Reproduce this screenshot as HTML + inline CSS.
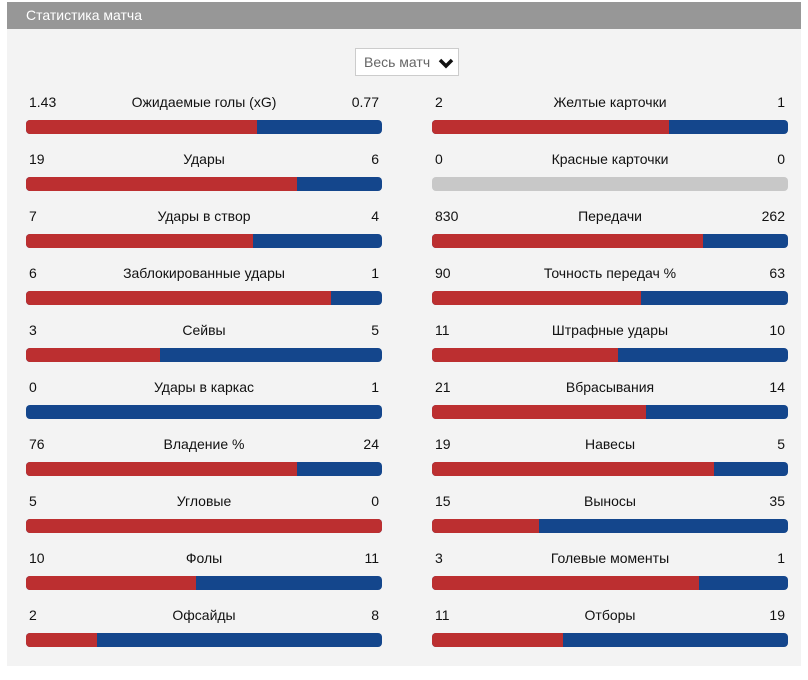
<!DOCTYPE html>
<html><head><meta charset="utf-8"><style>
body{margin:0;width:808px;height:680px;background:#fff;font-family:"Liberation Sans",sans-serif;position:relative;overflow:hidden}
#hdr{position:absolute;left:7px;top:2px;width:794px;height:27px;background:#979797;color:#fff;font-size:14px;line-height:27px;box-sizing:border-box;padding-left:19px}
#panel{position:absolute;left:7px;top:29px;width:794px;height:637px;background:#f3f3f3}
#sel{position:absolute;left:355px;top:48px;width:104px;height:28px;box-sizing:border-box;border:1px solid #ccc;background:#fff;font-size:14px;color:#666;line-height:26px;padding-left:8px}
#sel svg{position:absolute;right:4px;top:8px}
.t{position:absolute;font-size:14px;color:#111;line-height:16px;white-space:nowrap}
.bar{position:absolute;height:14px;width:356px;border-radius:4px;overflow:hidden;background:#14468c}
.bar .r{position:absolute;left:0;top:0;height:100%;background:#bc2f30}
</style></head><body>
<div id="hdr">Статистика матча</div>
<div id="panel"></div>
<div id="sel">Весь матч<svg width="16" height="12" viewBox="0 0 16 12"><path d="M2 3 L8 9 L14 3" stroke="#111" stroke-width="3.5" fill="none"/></svg></div>
<div id="stats"></div>
<script>
const labels=["Ожидаемые голы (xG)","Удары","Удары в створ","Заблокированные удары","Сейвы","Удары в каркас","Владение %","Угловые","Фолы","Офсайды","Желтые карточки","Красные карточки","Передачи","Точность передач %","Штрафные удары","Вбрасывания","Навесы","Выносы","Голевые моменты","Отборы"];
const homeVals=[1.43,19,7,6,3,0,76,5,10,2,2,0,830,90,11,21,19,15,3,11];
const awayVals=[0.77,6,4,1,5,1,24,0,11,8,1,0,262,63,10,14,5,35,1,19];
const homeText=["1.43","19","7","6","3","0","76","5","10","2","2","0","830","90","11","21","19","15","3","11"];
const awayText=["0.77","6","4","1","5","1","24","0","11","8","1","0","262","63","10","14","5","35","1","19"];
const root=document.getElementById('stats');
labels.forEach((lab,i)=>{
  const col=i<10?0:1, row=i%10;
  const x0=col?432:26, y=94+row*57, W=356;
  const mk=(txt,css,name)=>{const d=document.createElement('div');d.className='t';d.textContent=txt;Object.assign(d.style,css);
    
    
    root.appendChild(d);};
  mk(homeText[i],{left:(x0+3)+'px',top:y+'px'},'home-value');
  mk(lab,{left:(x0+W/2)+'px',top:y+'px',transform:'translateX(-50%)'},'stat-label');
  mk(awayText[i],{left:(x0+W-3)+'px',top:y+'px',transform:'translateX(-100%)'},'away-value');
  const b=document.createElement('div');b.className='bar';b.style.left=x0+'px';b.style.top=(y+26)+'px';
  
  
  const tot=homeVals[i]+awayVals[i];
  if(tot===0){b.style.background='#c8c8c8';}
  else{const r=document.createElement('div');r.className='r';r.style.width=(homeVals[i]/tot*W)+'px';
    
    
    b.appendChild(r);}
  root.appendChild(b);
});
</script>
</body></html>
